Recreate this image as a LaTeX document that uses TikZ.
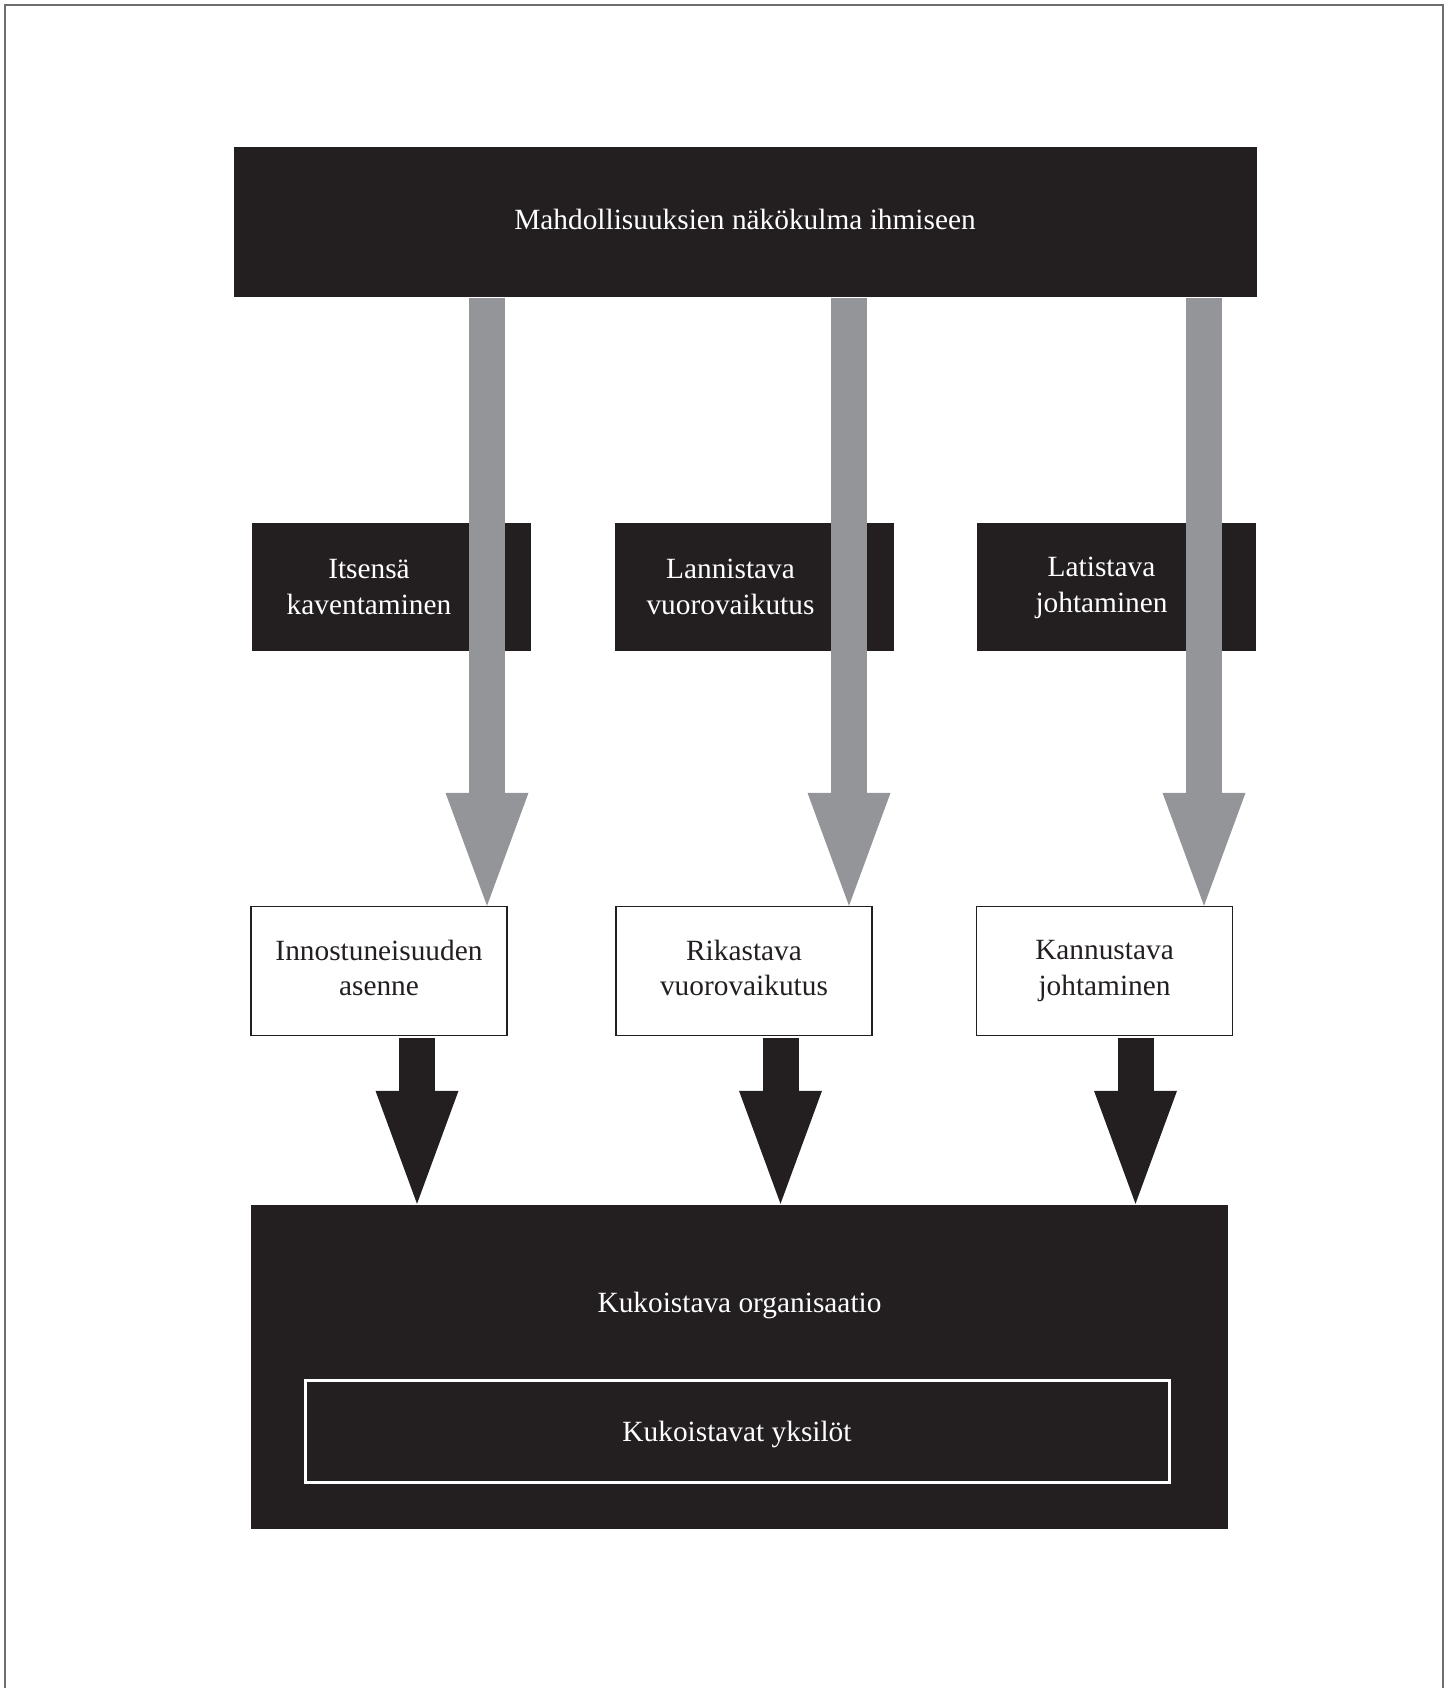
\documentclass[tikz,border=0pt]{standalone}
\usepackage{fontspec}
\setmainfont{Liberation Serif}
\usetikzlibrary{arrows.meta, positioning, calc}
\definecolor{boxblack}{HTML}{231F20}
\definecolor{arrowgray}{HTML}{939598}
\definecolor{framegray}{HTML}{6E6E6E}
\newcommand{\figfont}{\fontsize{8.35}{10.1}\selectfont}

\begin{document}
\begin{tikzpicture}[x=0.1mm, y=-0.1mm,
    darkbox/.style={fill=boxblack, text=white, inner sep=0pt, align=center, font=\figfont},
    midbox/.style={darkbox, minimum width=27.9mm, minimum height=12.8mm},
    lightbox/.style={draw=boxblack, line width=0.4pt, fill=white, text=boxblack, inner sep=0pt, text depth=1.8pt,
                     align=center, minimum width=25.6mm, minimum height=12.9mm, font=\figfont},
    boxtext/.style={text=white, align=center, inner sep=0pt, font=\figfont},
    grayarrow/.style={draw=arrowgray, line width=3.55mm, -{Triangle[width=8.3mm, length=11.3mm, line width=0pt]}},
    blackarrow/.style={draw=boxblack, line width=3.6mm, -{Triangle[width=8.3mm, length=11.3mm, line width=0pt]}},
    ]

    \useasboundingbox (0,0) rectangle (1452,1688);

    % page frame
    \draw[framegray, line width=0.2mm] (4.5,1688) -- (4.5,5.5) -- (1443,5.5) -- (1443,1688);

    % top box
    \node[darkbox, minimum width=102.3mm, minimum height=15mm, text depth=1.8pt] (view) at (745,222) {Mahdollisuuksien näkökulma ihmiseen};

    % black middle boxes
    \node[midbox, label={[boxtext, xshift=-2.2mm]center:{Itsensä\\kaventaminen}}] (narrow) at (391,587) {};
    \node[midbox, label={[boxtext, xshift=-2.4mm]center:{Lannistava\\vuorovaikutus}}] (discourage) at (754.5,587) {};
    \node[midbox, label={[boxtext, xshift=-1.5mm, yshift=-0.1mm]center:{Latistava\\johtaminen}}] (flatten) at (1116.5,587) {};

    % white boxes
    \node[lightbox] (keen) at (379,971) {Innostuneisuuden\\asenne};
    \node[lightbox] (enrich) at (744,971) {Rikastava\\vuorovaikutus};
    \node[lightbox] (spur) at (1104.5,971) {Kannustava\\johtaminen};

    % bottom box
    \node[darkbox, minimum width=97.7mm, minimum height=32.4mm,
          label={[boxtext, yshift=6.1mm]center:Kukoistava organisaatio}] (org) at (739.5,1366.5) {};
    \node[darkbox, draw=white, line width=0.3mm, minimum width=86.4mm, minimum height=10.2mm, text depth=0pt] (people) at (737,1431) {Kukoistavat yksilöt};

    % gray arrows
    \coordinate (g1) at (487,0);
    \coordinate (g2) at (849,0);
    \coordinate (g3) at (1204,0);
    \draw[grayarrow] (g1 |- view.south) -- (g1 |- keen.north);
    \draw[grayarrow] (g2 |- view.south) -- (g2 |- enrich.north);
    \draw[grayarrow] (g3 |- view.south) -- (g3 |- spur.north);

    % black arrows
    \coordinate (b1) at (417,0);
    \coordinate (b2) at (780.5,0);
    \coordinate (b3) at (1135.5,0);
    \draw[blackarrow, shorten <=0.2mm] (b1 |- keen.south) -- (b1 |- org.north);
    \draw[blackarrow, shorten <=0.2mm] (b2 |- enrich.south) -- (b2 |- org.north);
    \draw[blackarrow, shorten <=0.2mm] (b3 |- spur.south) -- (b3 |- org.north);
\end{tikzpicture}
\end{document}
